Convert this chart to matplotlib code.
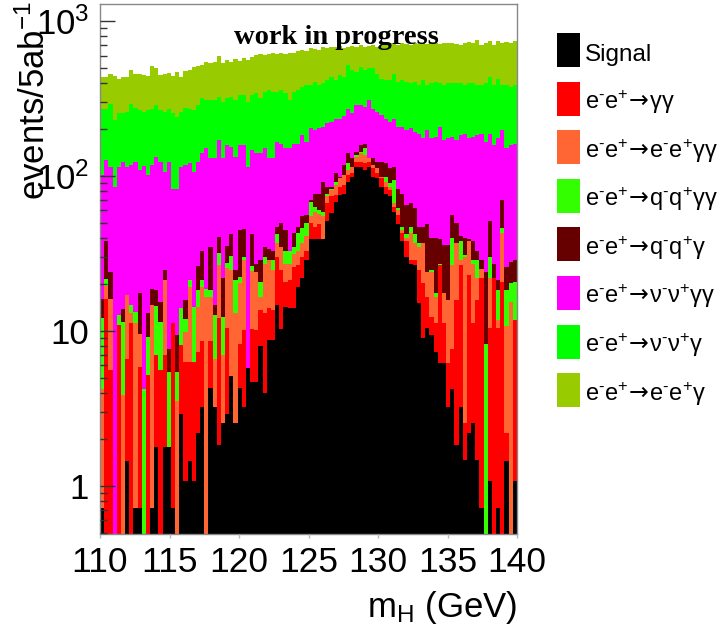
import numpy as np
import matplotlib
matplotlib.use("Agg")
import matplotlib.pyplot as plt
from matplotlib.patches import Rectangle
from matplotlib.ticker import FixedLocator, FixedFormatter, NullFormatter

plt.rcParams['font.family'] = ['Liberation Sans', 'DejaVu Sans']
plt.rcParams['mathtext.fontset'] = 'custom'
plt.rcParams['mathtext.rm'] = 'Liberation Sans'
plt.rcParams['mathtext.it'] = 'Liberation Sans'
plt.rcParams['mathtext.bf'] = 'Liberation Sans:bold'
plt.rcParams['mathtext.sf'] = 'DejaVu Sans'


def _sup_minus():
    # short hyphen in superscript (ROOT style) if mathtext supports \text
    try:
        from matplotlib.mathtext import MathTextParser
        MathTextParser('agg').parse(r'$^{\text{-}}$', dpi=100)
        return r'\text{-}'
    except Exception:
        return '-'


M = _sup_minus()
ARROW = r'$\!\mathsf{\rightarrow}\!$'

# ---------------- data (THStack: stacked totals per bin, bottom layer first) -------------
x_min, x_max, n_bins = 110.0, 140.0, 100

process_labels = [
    'Signal',
    'e$^{%s}$e$^{+}$%sγγ' % (M, ARROW),
    'e$^{%s}$e$^{+}$%se$^{%s}$e$^{+}$γγ' % (M, ARROW, M),
    'e$^{%s}$e$^{+}$%sq$^{%s}$q$^{+}$γγ' % (M, ARROW, M),
    'e$^{%s}$e$^{+}$%sq$^{%s}$q$^{+}$γ' % (M, ARROW, M),
    'e$^{%s}$e$^{+}$%sν$^{%s}$ν$^{+}$γγ' % (M, ARROW, M),
    'e$^{%s}$e$^{+}$%sν$^{%s}$ν$^{+}$γ' % (M, ARROW, M),
    'e$^{%s}$e$^{+}$%se$^{%s}$e$^{+}$γ' % (M, ARROW, M),
]
process_colors = ['#000000', '#ff0000', '#ff6633', '#33ff00',
                  '#660000', '#ff00ff', '#00ff00', '#99cc00']

stack_signal = [
    0.72, 0, 0, 0, 0, 0, 1.45, 0, 0.72, 0.72,
    0, 0, 0.72, 1.79, 0, 1.79, 1.79, 0.72, 0, 2.9,
    1.08, 1.45, 1.08, 2.19, 3.25, 0, 4.3, 3.25, 1.84, 2.54,
    2.9, 5.1, 2.54, 4.3, 3.25, 5.75, 4.7, 4.7, 8.0, 3.98,
    8.8, 8.8, 14.7, 10.3, 14.3, 14.0, 14.0, 19.3, 21.9, 28.7,
    39, 39, 39, 39, 51, 58, 68, 75, 77, 92,
    99, 115, 114, 109, 115, 99, 97, 85.5, 77, 74,
    59, 49, 38, 30, 27, 26.6, 15.1, 9.0, 10.4, 9.4,
    7.35, 6.2, 6.2, 3.25, 4.25, 1.84, 3.25, 1.47, 2.19, 2.54,
    1.47, 0.72, 0, 1.07, 0, 0.72, 0, 1.44, 0, 1.07]

stack_aa = [
    0.72, 16.0, 5.6, 0, 10.9, 0, 6.6, 11.2, 0.72, 5.9,
    0, 5.2, 0.72, 7.0, 5.6, 7.0, 1.79, 11.2, 0, 8.1,
    6.3, 6.3, 6.3, 7.35, 8.6, 0, 8.6, 3.25, 12.1, 2.54,
    10.4, 5.1, 2.54, 8.3, 10.1, 5.75, 10.3, 10.1, 13.7, 13.0,
    14.0, 13.7, 30, 24.6, 20.8, 21.4, 26, 26.6, 30, 33,
    50, 47, 49, 39, 67, 74, 75, 85.5, 87.5, 101,
    104, 124, 124, 121, 124, 112, 104, 97, 85.5, 81,
    63, 56, 43, 38, 28.7, 28.7, 24.6, 20.3, 16.7, 12.4,
    11.2, 26.6, 11.2, 6.2, 7.7, 15.9, 26.6, 2.54, 22.9, 11.2,
    15.9, 21.9, 0, 10.4, 21.9, 10.4, 20.8, 2.19, 0, 11.8]

stack_eeaa = [
    4.25, 19.5, 16.0, 0, 10.9, 3.86, 17.2, 13.1, 11.2, 9.6,
    0, 5.2, 14.7, 7.0, 5.6, 21.4, 1.79, 11.2, 3.55, 8.1,
    9.9, 19.1, 6.3, 14.3, 19.1, 16.7, 16.7, 6.6, 26.6, 7.0,
    25.6, 24.6, 13.1, 20.3, 28.7, 5.75, 24.3, 24.0, 16.7, 27,
    28.7, 24.6, 37, 35, 27, 27, 31.5, 33, 37, 41,
    55, 59, 57, 55, 74, 81, 87.5, 97, 101, 109,
    115, 133, 140, 137, 130, 118, 112, 99, 92, 85.5,
    67, 60, 45, 40, 43, 37, 35, 37, 24.0, 24.0,
    16.7, 26.6, 17.5, 15.9, 26.6, 37, 28.7, 30, 38, 27,
    21.9, 25.3, 0, 21.9, 21.9, 11.8, 43, 10.7, 15.5, 11.8]

stack_qqaa = [
    12.1, 21.6, 16.0, 0, 12.7, 11.4, 17.2, 14.7, 13.3, 9.6,
    4.25, 9.2, 14.7, 14.5, 11.5, 21.4, 5.45, 11.2, 5.45, 14.0,
    11.9, 21.2, 14.2, 18.5, 21.2, 18.8, 18.5, 12.7, 32, 12.3,
    27.6, 30.5, 21.4, 22.2, 30, 5.75, 26.2, 24.0, 20.8, 30,
    28.7, 28.7, 42, 35, 33, 33, 35, 43, 46, 50,
    68, 63, 60, 59, 77, 83, 92, 97, 101, 121,
    115, 137, 144, 151, 130, 118, 112, 99, 99, 90,
    94, 62, 47, 42, 47, 42, 37, 37, 24.0, 24.6,
    17.5, 27, 17.5, 15.9, 40, 37, 38, 31, 38, 28.7,
    28.7, 25.3, 8.3, 30, 21.9, 18.4, 46, 18.4, 20.3, 20.8]

stack_qqa = [
    16.0, 38, 24.0, 0, 12.7, 13.8, 17.2, 14.7, 13.3, 17.5,
    4.25, 13.1, 18.8, 18.4, 15.5, 24.9, 7.7, 11.2, 9.4, 14.0,
    15.9, 21.2, 14.2, 26.2, 32.8, 18.8, 34.8, 14.7, 40.5, 21.9,
    35.5, 42.5, 24.9, 45, 45.5, 5.75, 42.5, 27, 28.7, 35,
    34, 33, 47, 50, 45, 33, 43, 47, 55, 56,
    70, 77, 77, 92, 85.5, 85.5, 104, 99, 118, 140,
    130, 144, 158, 162, 130, 130, 124, 124, 121, 112,
    115, 83, 77, 65, 67, 62, 47, 47, 49, 40,
    40, 39, 36, 36, 56, 50, 41, 40, 39, 38,
    33, 28.7, 24.0, 51, 27, 21.4, 70, 26, 28, 28.7]

stack_nnaa = [
    101, 127, 114, 85.5, 114, 124, 115, 118, 124, 109,
    116, 101, 118, 133, 124, 107, 124, 82, 82, 115,
    118, 121, 107, 124, 140, 151, 130, 130, 171, 130,
    158, 155, 133, 158, 158, 115, 147, 140, 140, 151,
    130, 130, 167, 162, 151, 151, 162, 162, 184, 167,
    203, 198, 203, 208, 219, 224, 235, 235, 244, 273,
    254, 287, 287, 280, 309, 273, 260, 248, 235, 224,
    235, 208, 208, 198, 203, 193, 188, 175, 198, 175,
    179, 208, 171, 175, 179, 171, 184, 188, 175, 179,
    184, 188, 167, 188, 158, 175, 198, 151, 158, 162]

stack_nna = [
    270, 270, 292, 230, 256, 254, 260, 292, 276, 267,
    260, 267, 273, 287, 268, 260, 273, 256, 241, 260,
    276, 273, 267, 287, 317, 309, 309, 312, 325, 302,
    317, 325, 309, 333, 333, 302, 333, 342, 317, 350,
    359, 350, 350, 359, 342, 309, 350, 362, 377, 386,
    386, 406, 386, 396, 416, 437, 416, 448, 437, 520,
    483, 471, 507, 483, 495, 495, 459, 426, 416, 416,
    459, 406, 416, 406, 396, 406, 386, 416, 386, 396,
    406, 396, 386, 396, 396, 396, 396, 386, 396, 396,
    386, 386, 396, 437, 386, 426, 386, 386, 377, 386]

stack_eea = [
    437, 437, 459, 441, 426, 433, 437, 483, 453, 453,
    448, 441, 515, 495, 448, 459, 464, 441, 471, 437,
    478, 483, 507, 513, 520, 547, 540, 547, 594, 533,
    560, 547, 566, 554, 574, 560, 589, 604, 613, 604,
    613, 619, 613, 625, 613, 619, 625, 643, 650, 643,
    667, 657, 650, 677, 667, 683, 677, 690, 667, 683,
    690, 677, 700, 683, 690, 700, 683, 700, 718, 718,
    710, 700, 718, 710, 700, 718, 710, 725, 710, 736,
    718, 710, 718, 725, 718, 710, 700, 725, 736, 725,
    754, 700, 725, 745, 700, 745, 718, 736, 725, 745]

y_ticks = [1, 10, 100, 1000]
y_tick_labels = ['1', '10', r'10$^{2}$', r'10$^{3}$']
x_ticks = [110, 115, 120, 125, 130, 135, 140]
x_tick_labels = ['110', '115', '120', '125', '130', '135', '140']

# ---------------- figure -------------
W, H = 719, 635
fig = plt.figure(figsize=(W / 100, H / 100), dpi=100)
ax = fig.add_axes([100 / W, 1 - 534 / H, 417 / W, 530 / H])

edges = np.linspace(x_min, x_max, n_bins + 1)
layers = np.array([stack_signal, stack_aa, stack_eeaa, stack_qqaa,
                   stack_qqa, stack_nnaa, stack_nna, stack_eea], dtype=float)
cum = np.maximum.accumulate(layers, axis=0)
floor = 1e-3
# draw like ROOT's THStack: tallest cumulative first, smaller ones on top
for values, color in reversed(list(zip(cum, process_colors))):
    ax.stairs(np.where(values > 0, values, floor), edges, baseline=floor,
              fill=True, color=color, linewidth=0)

ax.set_yscale('log')
ax.set_xlim(x_min, x_max)
ax.set_ylim(0.49, 1290)

ax.yaxis.set_major_locator(FixedLocator(y_ticks))
ax.yaxis.set_major_formatter(FixedFormatter(y_tick_labels))
minor = [m * 10.0 ** e for e in range(-1, 3) for m in range(2, 10)]
ax.yaxis.set_minor_locator(FixedLocator([v for v in minor if 0.49 <= v <= 1290]))
ax.yaxis.set_minor_formatter(NullFormatter())
ax.tick_params(axis='y', which='major', direction='in', length=11, width=1,
               color='#333333', labelsize=25, pad=8, right=False)
ax.tick_params(axis='y', which='minor', direction='in', length=5, width=1,
               color='#333333', right=False)

ax.xaxis.set_major_locator(FixedLocator(x_ticks))
ax.xaxis.set_major_formatter(FixedFormatter(x_tick_labels))
ax.xaxis.set_minor_locator(FixedLocator([]))
ax.tick_params(axis='x', which='major', direction='out', length=3, width=1,
               color='#bbbbbb', labelsize=25.5, pad=6, top=False)

for s in ax.spines.values():
    s.set_color('#888888')
    s.set_linewidth(1.0)
ax.set_axisbelow(False)

# axis titles (ROOT style, right/top aligned)
fig.text(517 / W, 1 - 617 / H, 'm$_{H}$ (GeV)', ha='right', va='baseline', fontsize=25)
fig.text(35 / W, 1 - 1 / H, 'events/5ab$^{-1}$', ha='center', va='top',
         rotation=90, fontsize=25)

fig.text(336 / W, 1 - 44 / H, 'work in progress', ha='center', va='baseline',
         fontsize=20.5, fontweight='bold', family=['Liberation Serif', 'DejaVu Serif'])

# legend
for i, (lab, col) in enumerate(zip(process_labels, process_colors)):
    yc = 50 + i * 48.6
    fig.patches.append(Rectangle((557 / W, 1 - (yc + 17) / H), 23 / W, 34 / H,
                                 transform=fig.transFigure, facecolor=col,
                                 edgecolor='none'))
    fig.text(585 / W, 1 - (yc + 10.5) / H, lab, ha='left', va='baseline',
             fontsize=17 if i else 17.5)

fig.savefig('out.png', dpi=100)
